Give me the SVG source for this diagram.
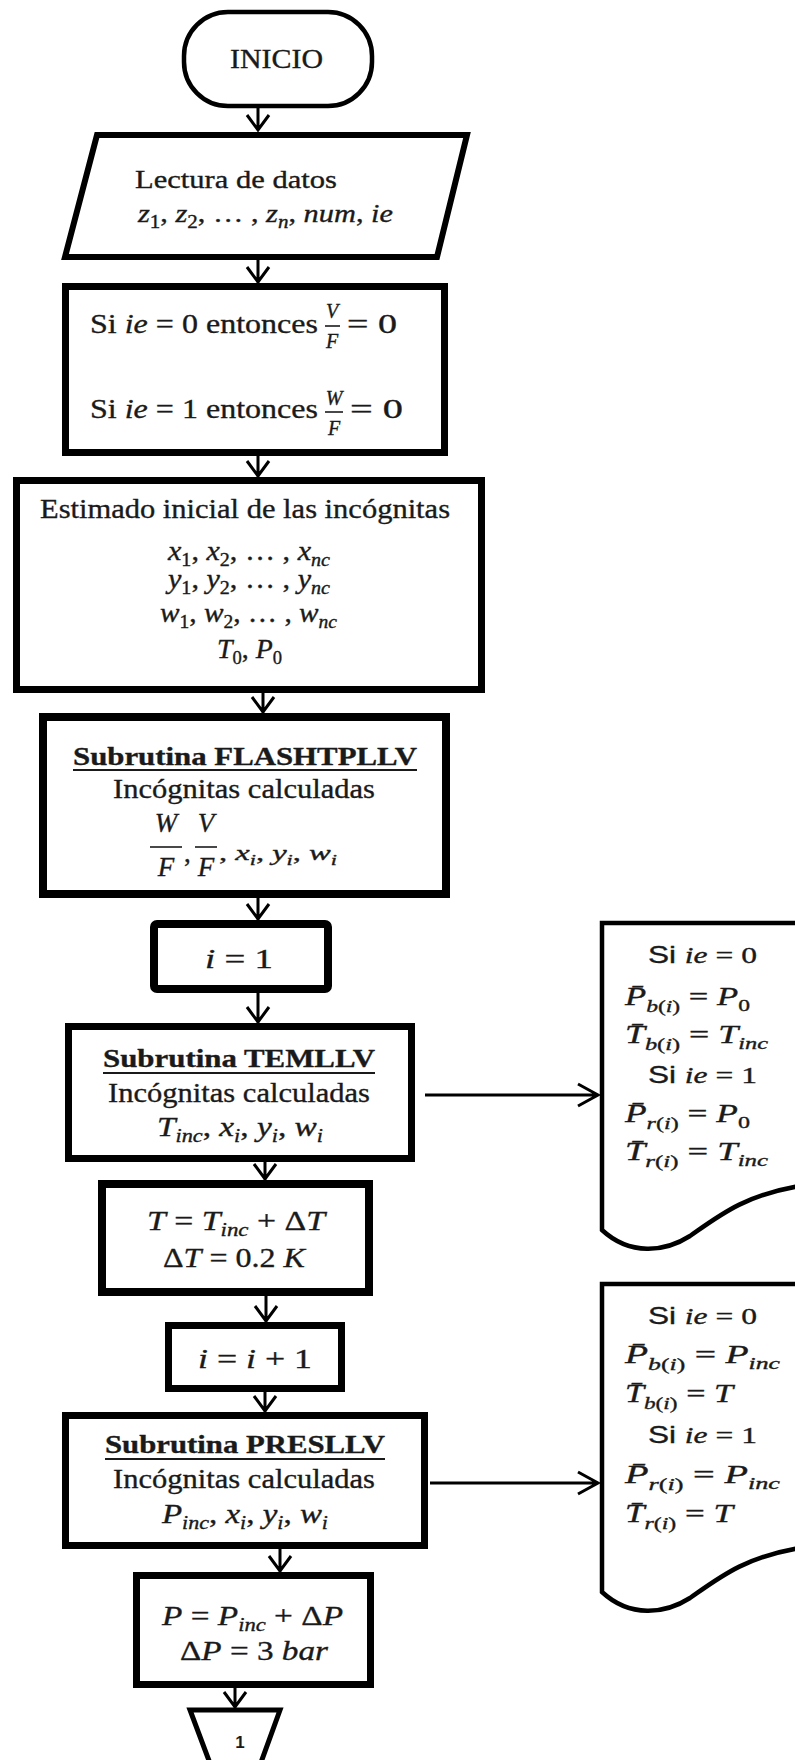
<svg xmlns="http://www.w3.org/2000/svg" width="795" height="1760" viewBox="0 0 795 1760">
<style>
.tx{font-family:"Liberation Serif","Times New Roman",serif;fill:#1a1a1a;stroke:#1a1a1a;stroke-width:0.35}
.it{font-style:italic}
.up{font-style:normal}
.bd{font-weight:bold}
.sans{font-family:"Liberation Sans",Arial,sans-serif;font-style:normal}
.sh{fill:#fff;stroke:#000;stroke-linejoin:miter}
.ul{stroke:#1a1a1a;stroke-width:1.8}
.fb{stroke:#1a1a1a;stroke-width:1.6}
.cn{fill:none;stroke:#000;stroke-width:3}
</style>
<rect width="795" height="1760" fill="#fff"/>

<g id="connectors">
<path class="cn" d="M258,108V130M247,115L258,130L269,115"/>
<path class="cn" d="M258,260V283M247,267L258,282L269,267"/>
<path class="cn" d="M258,456V477M247,461L258,476L269,461"/>
<path class="cn" d="M263,693V713M252,697L263,712L274,697"/>
<path class="cn" d="M258,898V920M247,904L258,919L269,904"/>
<path class="cn" d="M258,993V1023M247,1007L258,1022L269,1007"/>
<path class="cn" d="M265,1162V1180M254,1164L265,1179L276,1164"/>
<path class="cn" d="M266,1296V1322M255,1306L266,1321L277,1306"/>
<path class="cn" d="M265,1392V1412M254,1396L265,1411L276,1396"/>
<path class="cn" d="M280,1549V1572M269,1556L280,1571L291,1556"/>
<path class="cn" d="M235,1688V1708M224,1692L235,1707L246,1692"/>
<path class="cn" stroke-width="2.5" d="M425,1095H598M578,1084L598,1095L578,1106"/>
<path class="cn" stroke-width="2.5" d="M430,1483H598M578,1472L598,1483L578,1494"/>
</g>

<g id="inicio">
<rect class="sh" x="184" y="12" width="188" height="94" rx="44" ry="44" stroke-width="4.5"/>
<text class="tx" x="230" y="68" font-size="27" textLength="93" lengthAdjust="spacingAndGlyphs">INICIO</text>
</g>

<g id="lectura">
<polygon class="sh" points="97,135 467,135 437,257 65,257" stroke-width="6"/>
<text class="tx" x="135" y="188" font-size="26" textLength="202" lengthAdjust="spacingAndGlyphs">Lectura de datos</text>
<text class="tx it" x="138" y="222" font-size="26" textLength="255" lengthAdjust="spacingAndGlyphs">z<tspan class="up" font-size="18" dy="6">1</tspan><tspan class="up" dy="-6">, </tspan>z<tspan class="up" font-size="18" dy="6">2</tspan><tspan class="up" dy="-6">, … , </tspan>z<tspan font-size="18" dy="6">n</tspan><tspan class="up" dy="-6">, </tspan>num<tspan class="up">, </tspan>ie</text>
</g>

<g id="condicion">
<rect class="sh" x="65.5" y="286.5" width="379" height="166" stroke-width="7"/>
<text class="tx" x="90" y="333" font-size="28" textLength="228" lengthAdjust="spacingAndGlyphs">Si <tspan class="it">ie</tspan> = 0 entonces</text>
<text class="tx it" x="332" y="318" font-size="20" text-anchor="middle">V</text>
<line class="fb" x1="325" y1="326" x2="340" y2="326"/>
<text class="tx it" x="332" y="348" font-size="20" text-anchor="middle">F</text>
<text class="tx" x="347" y="333" font-size="28" textLength="50" lengthAdjust="spacingAndGlyphs">= 0</text>
<text class="tx" x="90" y="418" font-size="28" textLength="228" lengthAdjust="spacingAndGlyphs">Si <tspan class="it">ie</tspan> = 1 entonces</text>
<text class="tx it" x="334" y="405" font-size="20" text-anchor="middle">W</text>
<line class="fb" x1="325" y1="412" x2="343" y2="412"/>
<text class="tx it" x="334" y="435" font-size="20" text-anchor="middle">F</text>
<text class="tx" x="350" y="418" font-size="28" textLength="53" lengthAdjust="spacingAndGlyphs">= 0</text>
</g>

<g id="estimado">
<rect class="sh" x="16.5" y="480.5" width="465" height="209" stroke-width="7"/>
<text class="tx" x="40" y="518" font-size="28" textLength="410" lengthAdjust="spacingAndGlyphs">Estimado inicial de las incógnitas</text>
<text class="tx it" x="168" y="560" font-size="27" textLength="162" lengthAdjust="spacingAndGlyphs">x<tspan class="up" font-size="18" dy="6">1</tspan><tspan class="up" dy="-6">, </tspan>x<tspan class="up" font-size="18" dy="6">2</tspan><tspan class="up" dy="-6">, … , </tspan>x<tspan font-size="18" dy="6">nc</tspan></text>
<text class="tx it" x="168" y="588" font-size="27" textLength="162" lengthAdjust="spacingAndGlyphs">y<tspan class="up" font-size="18" dy="6">1</tspan><tspan class="up" dy="-6">, </tspan>y<tspan class="up" font-size="18" dy="6">2</tspan><tspan class="up" dy="-6">, … , </tspan>y<tspan font-size="18" dy="6">nc</tspan></text>
<text class="tx it" x="160" y="622" font-size="27" textLength="177" lengthAdjust="spacingAndGlyphs">w<tspan class="up" font-size="18" dy="6">1</tspan><tspan class="up" dy="-6">, </tspan>w<tspan class="up" font-size="18" dy="6">2</tspan><tspan class="up" dy="-6">, … , </tspan>w<tspan font-size="18" dy="6">nc</tspan></text>
<text class="tx it" x="217" y="658" font-size="27" textLength="65" lengthAdjust="spacingAndGlyphs">T<tspan class="up" font-size="18" dy="6">0</tspan><tspan class="up" dy="-6">, </tspan>P<tspan class="up" font-size="18" dy="6">0</tspan></text>
</g>

<g id="flashtpllv">
<rect class="sh" x="43" y="717" width="403" height="177" stroke-width="8"/>
<text class="tx bd" x="73" y="765" font-size="26" textLength="344" lengthAdjust="spacingAndGlyphs">Subrutina FLASHTPLLV</text>
<line class="ul" x1="73" y1="770" x2="417" y2="770"/>
<text class="tx" x="113" y="798" font-size="28" textLength="262" lengthAdjust="spacingAndGlyphs">Incógnitas calculadas</text>
<text class="tx it" x="166" y="832" font-size="27" text-anchor="middle">W</text>
<line class="fb" x1="150" y1="847" x2="182" y2="847"/>
<text class="tx it" x="166" y="876" font-size="27" text-anchor="middle">F</text>
<text class="tx" x="184" y="862" font-size="27">,</text>
<text class="tx it" x="206" y="832" font-size="27" text-anchor="middle">V</text>
<line class="fb" x1="195" y1="847" x2="217" y2="847"/>
<text class="tx it" x="206" y="876" font-size="27" text-anchor="middle">F</text>
<text class="tx it" x="219" y="860" font-size="22" textLength="118" lengthAdjust="spacingAndGlyphs"><tspan class="up">, </tspan>x<tspan font-size="15" dy="5">i</tspan><tspan class="up" dy="-5">, </tspan>y<tspan font-size="15" dy="5">i</tspan><tspan class="up" dy="-5">, </tspan>w<tspan font-size="15" dy="5">i</tspan></text>
</g>

<g id="i-uno">
<rect class="sh" x="154" y="924" width="174" height="65" rx="3" stroke-width="8"/>
<text class="tx" x="205" y="968" font-size="28" textLength="68" lengthAdjust="spacingAndGlyphs"><tspan class="it">i</tspan> = 1</text>
</g>

<g id="temllv">
<rect class="sh" x="68.5" y="1026.5" width="343" height="132" stroke-width="7"/>
<text class="tx bd" x="103" y="1067" font-size="26" textLength="272" lengthAdjust="spacingAndGlyphs">Subrutina TEMLLV</text>
<line class="ul" x1="103" y1="1073" x2="375" y2="1073"/>
<text class="tx" x="108" y="1102" font-size="28" textLength="262" lengthAdjust="spacingAndGlyphs">Incógnitas calculadas</text>
<text class="tx it" x="157" y="1136" font-size="27" textLength="166" lengthAdjust="spacingAndGlyphs">T<tspan font-size="18" dy="6">inc</tspan><tspan class="up" dy="-6">, </tspan>x<tspan font-size="18" dy="6">i</tspan><tspan class="up" dy="-6">, </tspan>y<tspan font-size="18" dy="6">i</tspan><tspan class="up" dy="-6">, </tspan>w<tspan font-size="18" dy="6">i</tspan></text>
</g>

<g id="t-incremento">
<rect class="sh" x="102" y="1184" width="267" height="108" stroke-width="8"/>
<text class="tx it" x="147" y="1230" font-size="28" textLength="178" lengthAdjust="spacingAndGlyphs">T<tspan class="up"> = </tspan>T<tspan font-size="19" dy="6">inc</tspan><tspan class="up" dy="-6"> + Δ</tspan>T</text>
<text class="tx it" x="163" y="1267" font-size="28" textLength="142" lengthAdjust="spacingAndGlyphs"><tspan class="up">Δ</tspan>T<tspan class="up"> = 0.2 </tspan>K</text>
</g>

<g id="i-mas-uno">
<rect class="sh" x="168.5" y="1325.5" width="173" height="63" stroke-width="7"/>
<text class="tx" x="198" y="1368" font-size="28" textLength="114" lengthAdjust="spacingAndGlyphs"><tspan class="it">i</tspan> = <tspan class="it">i</tspan> + 1</text>
</g>

<g id="presllv">
<rect class="sh" x="65.5" y="1415.5" width="359" height="130" stroke-width="7"/>
<text class="tx bd" x="105" y="1453" font-size="26" textLength="280" lengthAdjust="spacingAndGlyphs">Subrutina PRESLLV</text>
<line class="ul" x1="105" y1="1459" x2="385" y2="1459"/>
<text class="tx" x="113" y="1488" font-size="28" textLength="262" lengthAdjust="spacingAndGlyphs">Incógnitas calculadas</text>
<text class="tx it" x="162" y="1523" font-size="27" textLength="166" lengthAdjust="spacingAndGlyphs">P<tspan font-size="18" dy="6">inc</tspan><tspan class="up" dy="-6">, </tspan>x<tspan font-size="18" dy="6">i</tspan><tspan class="up" dy="-6">, </tspan>y<tspan font-size="18" dy="6">i</tspan><tspan class="up" dy="-6">, </tspan>w<tspan font-size="18" dy="6">i</tspan></text>
</g>

<g id="p-incremento">
<rect class="sh" x="136.5" y="1575.5" width="234" height="109" stroke-width="7"/>
<text class="tx it" x="162" y="1625" font-size="28" textLength="181" lengthAdjust="spacingAndGlyphs">P<tspan class="up"> = </tspan>P<tspan font-size="19" dy="6">inc</tspan><tspan class="up" dy="-6"> + Δ</tspan>P</text>
<text class="tx it" x="180" y="1660" font-size="28" textLength="148" lengthAdjust="spacingAndGlyphs"><tspan class="up">Δ</tspan>P<tspan class="up"> = 3 </tspan>bar</text>
</g>

<g id="conector-1">
<polygon class="sh" points="190,1710 280,1710 251,1790 220,1790" stroke-width="5"/>
<text x="240" y="1748" font-family="Liberation Sans, Arial, sans-serif" font-weight="bold" font-size="17" text-anchor="middle" fill="#1a1a1a">1</text>
</g>

<g id="documento-1">
<path class="sh" stroke-width="4.5" d="M602,1230V923H800V1186C745,1195 720,1215 690,1236C665,1252 630,1256 602,1230Z"/>
<text class="tx" x="648" y="963" font-size="24" textLength="109" lengthAdjust="spacingAndGlyphs"><tspan class="sans">Si </tspan><tspan class="it">ie</tspan> = 0</text>
<text class="tx it" x="625" y="1005" font-size="25" textLength="125" lengthAdjust="spacingAndGlyphs">P̄<tspan font-size="17" dy="7">b</tspan><tspan class="up" font-size="17">(</tspan><tspan font-size="17">i</tspan><tspan class="up" font-size="17">)</tspan><tspan class="up" dy="-7"> = </tspan>P<tspan class="up" font-size="17" dy="6">0</tspan></text>
<text class="tx it" x="625" y="1043" font-size="25" textLength="143" lengthAdjust="spacingAndGlyphs">T̄<tspan font-size="17" dy="7">b</tspan><tspan class="up" font-size="17">(</tspan><tspan font-size="17">i</tspan><tspan class="up" font-size="17">)</tspan><tspan class="up" dy="-7"> = </tspan>T<tspan font-size="17" dy="6">inc</tspan></text>
<text class="tx" x="648" y="1083" font-size="24" textLength="109" lengthAdjust="spacingAndGlyphs"><tspan class="sans">Si </tspan><tspan class="it">ie</tspan> = 1</text>
<text class="tx it" x="625" y="1122" font-size="25" textLength="125" lengthAdjust="spacingAndGlyphs">P̄<tspan font-size="17" dy="7">r</tspan><tspan class="up" font-size="17">(</tspan><tspan font-size="17">i</tspan><tspan class="up" font-size="17">)</tspan><tspan class="up" dy="-7"> = </tspan>P<tspan class="up" font-size="17" dy="6">0</tspan></text>
<text class="tx it" x="625" y="1160" font-size="25" textLength="143" lengthAdjust="spacingAndGlyphs">T̄<tspan font-size="17" dy="7">r</tspan><tspan class="up" font-size="17">(</tspan><tspan font-size="17">i</tspan><tspan class="up" font-size="17">)</tspan><tspan class="up" dy="-7"> = </tspan>T<tspan font-size="17" dy="6">inc</tspan></text>
</g>

<g id="documento-2">
<path class="sh" stroke-width="4.5" d="M602,1592V1284H800V1548C745,1557 720,1577 690,1598C665,1614 630,1618 602,1592Z"/>
<text class="tx" x="648" y="1324" font-size="24" textLength="109" lengthAdjust="spacingAndGlyphs"><tspan class="sans">Si </tspan><tspan class="it">ie</tspan> = 0</text>
<text class="tx it" x="625" y="1363" font-size="25" textLength="155" lengthAdjust="spacingAndGlyphs">P̄<tspan font-size="17" dy="7">b</tspan><tspan class="up" font-size="17">(</tspan><tspan font-size="17">i</tspan><tspan class="up" font-size="17">)</tspan><tspan class="up" dy="-7"> = </tspan>P<tspan font-size="17" dy="6">inc</tspan></text>
<text class="tx it" x="625" y="1402" font-size="25" textLength="108" lengthAdjust="spacingAndGlyphs">T̄<tspan font-size="17" dy="7">b</tspan><tspan class="up" font-size="17">(</tspan><tspan font-size="17">i</tspan><tspan class="up" font-size="17">)</tspan><tspan class="up" dy="-7"> = </tspan>T</text>
<text class="tx" x="648" y="1443" font-size="24" textLength="109" lengthAdjust="spacingAndGlyphs"><tspan class="sans">Si </tspan><tspan class="it">ie</tspan> = 1</text>
<text class="tx it" x="625" y="1483" font-size="25" textLength="155" lengthAdjust="spacingAndGlyphs">P̄<tspan font-size="17" dy="7">r</tspan><tspan class="up" font-size="17">(</tspan><tspan font-size="17">i</tspan><tspan class="up" font-size="17">)</tspan><tspan class="up" dy="-7"> = </tspan>P<tspan font-size="17" dy="6">inc</tspan></text>
<text class="tx it" x="625" y="1522" font-size="25" textLength="108" lengthAdjust="spacingAndGlyphs">T̄<tspan font-size="17" dy="7">r</tspan><tspan class="up" font-size="17">(</tspan><tspan font-size="17">i</tspan><tspan class="up" font-size="17">)</tspan><tspan class="up" dy="-7"> = </tspan>T</text>
</g>
</svg>
